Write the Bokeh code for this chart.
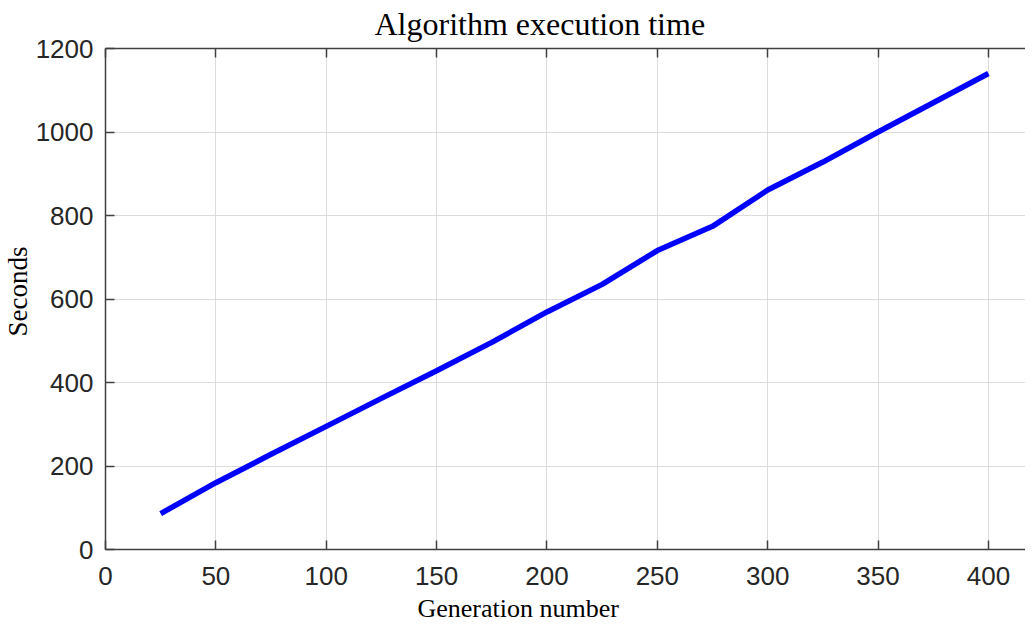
from bokeh.plotting import figure
from bokeh.models import Range1d, LinearAxis, SingleIntervalTicker, Title
from bokeh.embed import file_html
from bokeh.resources import INLINE

generations = [25, 50, 75, 100, 125, 150, 175, 200, 225, 250, 275, 300, 325, 350, 375, 400]
seconds = [86, 160, 228, 295, 362, 428, 496, 569, 635, 716, 774, 861, 928, 1000, 1070, 1140]

x_ticks_step = 50
y_ticks_step = 200

p = figure(frame_width=920, frame_height=501, output_backend="svg", toolbar_location=None,
           x_range=Range1d(0, 416.8), y_range=Range1d(0, 1200),
           min_border_left=0, min_border_right=0, min_border_top=0, min_border_bottom=0)
p.outline_line_color = None
p.background_fill_color = "white"
p.border_fill_color = "white"

p.title = Title(text="Algorithm execution time", text_font="Liberation Serif",
                text_font_size="32px", text_font_style="normal", text_color="#000000",
                align="left", offset=269, standoff=6)

p.line(generations, seconds, line_color="#0000ff", line_width=5.5)

p.xaxis.ticker = SingleIntervalTicker(interval=x_ticks_step)
p.yaxis.ticker = SingleIntervalTicker(interval=y_ticks_step)

for ax in (p.xaxis[0], p.yaxis[0]):
    ax.axis_line_color = "#404040"
    ax.axis_line_width = 1.5
    ax.major_tick_in = 9
    ax.major_tick_out = 0
    ax.major_tick_line_color = "#404040"
    ax.major_tick_line_width = 1.5
    ax.minor_tick_line_color = None
    ax.major_label_text_font = "Liberation Sans"
    ax.major_label_text_font_size = "26px"
    ax.major_label_text_color = "#262626"

p.xaxis.major_label_standoff = 13
p.yaxis.major_label_standoff = 8

xlabel = Title(text="Generation number", text_font="Liberation Serif",
               text_font_size="26px", text_font_style="normal", text_color="#000000",
               align="left", offset=312, standoff=9)
p.add_layout(xlabel, "below")

ylabel = Title(text="Seconds", text_font="Liberation Serif",
               text_font_size="27px", text_font_style="normal", text_color="#000000",
               align="left", offset=213, standoff=0)
p.add_layout(ylabel, "left")

top = LinearAxis(ticker=SingleIntervalTicker(interval=x_ticks_step))
top.axis_line_color = "#404040"
top.axis_line_width = 1.5
top.major_tick_in = 9
top.major_tick_out = 0
top.major_tick_line_color = "#404040"
top.major_tick_line_width = 1.5
top.minor_tick_line_color = None
top.major_label_text_font_size = "0px"
top.major_label_text_color = None
top.major_label_standoff = 0
p.add_layout(top, "above")

p.xgrid.ticker = SingleIntervalTicker(interval=x_ticks_step)
p.ygrid.ticker = SingleIntervalTicker(interval=y_ticks_step)
p.grid.grid_line_color = "#dcdcdc"
p.grid.grid_line_width = 1

open("out.html", "w").write(file_html(p, INLINE))
